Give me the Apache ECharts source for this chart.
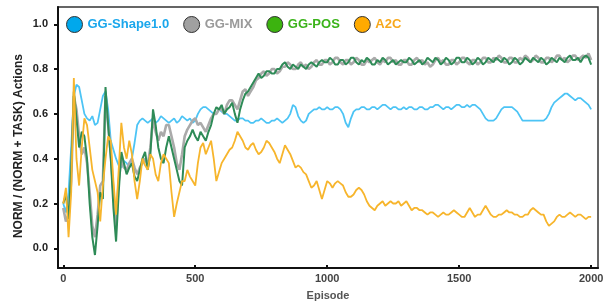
<!DOCTYPE html>
<html>
<head>
<meta charset="utf-8">
<script src="https://cdn.jsdelivr.net/npm/echarts@6/dist/echarts.min.js"></script>
<style>html,body{margin:0;padding:0;background:#fff}#c{width:608px;height:306px}</style>
</head>
<body>
<div id="c"></div>
<script>
// episodes 0, 10, 20, ... 2000
var episodes = [];
for (var e = 0; e <= 2000; e += 10) episodes.push(e);

var ggShape = [
0.20,0.16,0.25,0.45,0.68,0.73,0.72,0.66,0.60,0.58,
0.57,0.59,0.55,0.56,0.62,0.68,0.70,0.62,0.48,0.44,
0.40,0.37,0.36,0.39,0.38,0.36,0.40,0.47,0.55,0.57,
0.58,0.57,0.56,0.57,0.58,0.56,0.57,0.59,0.58,0.57,
0.56,0.57,0.58,0.56,0.57,0.59,0.58,0.57,0.58,0.56,
0.57,0.60,0.62,0.63,0.63,0.62,0.61,0.60,0.60,0.62,
0.61,0.60,0.60,0.59,0.58,0.57,0.57,0.58,0.58,0.57,
0.57,0.56,0.56,0.57,0.57,0.58,0.57,0.56,0.56,0.57,
0.57,0.58,0.57,0.56,0.57,0.58,0.60,0.64,0.63,0.59,
0.57,0.56,0.57,0.60,0.61,0.62,0.62,0.63,0.62,0.62,
0.63,0.62,0.62,0.63,0.63,0.62,0.60,0.56,0.54,0.58,
0.61,0.62,0.62,0.63,0.63,0.62,0.62,0.63,0.63,0.62,
0.63,0.64,0.64,0.63,0.62,0.63,0.63,0.62,0.62,0.63,
0.62,0.63,0.63,0.62,0.62,0.63,0.63,0.62,0.62,0.63,
0.63,0.64,0.64,0.63,0.62,0.63,0.63,0.62,0.63,0.64,
0.64,0.63,0.63,0.64,0.63,0.64,0.64,0.63,0.62,0.60,
0.58,0.57,0.57,0.57,0.58,0.60,0.62,0.63,0.63,0.63,
0.63,0.62,0.61,0.59,0.57,0.57,0.57,0.57,0.57,0.57,
0.57,0.57,0.57,0.58,0.60,0.63,0.65,0.66,0.67,0.68,
0.69,0.69,0.68,0.67,0.66,0.67,0.67,0.66,0.65,0.64,
0.62];

var ggMix = [
0.18,0.12,0.15,0.30,0.68,0.62,0.50,0.42,0.45,0.38,
0.25,0.10,0.05,0.15,0.28,0.30,0.68,0.55,0.42,0.25,
0.10,0.30,0.40,0.36,0.35,0.38,0.40,0.36,0.33,0.36,
0.38,0.40,0.37,0.45,0.58,0.52,0.48,0.52,0.50,0.55,
0.55,0.50,0.45,0.38,0.35,0.42,0.50,0.53,0.55,0.57,
0.58,0.55,0.56,0.54,0.52,0.55,0.58,0.60,0.60,0.62,
0.62,0.60,0.64,0.66,0.66,0.64,0.62,0.66,0.70,0.71,
0.68,0.70,0.72,0.75,0.76,0.78,0.79,0.77,0.78,0.80,
0.80,0.78,0.79,0.81,0.81,0.83,0.82,0.80,0.80,0.82,
0.83,0.81,0.82,0.80,0.81,0.83,0.84,0.82,0.82,0.84,
0.84,0.82,0.83,0.85,0.85,0.83,0.82,0.84,0.84,0.82,
0.83,0.85,0.84,0.82,0.82,0.84,0.83,0.84,0.85,0.83,
0.82,0.84,0.83,0.85,0.85,0.83,0.84,0.82,0.82,0.84,
0.84,0.82,0.82,0.84,0.85,0.83,0.84,0.82,0.83,0.81,
0.82,0.84,0.85,0.83,0.84,0.82,0.82,0.84,0.84,0.82,
0.83,0.85,0.85,0.83,0.82,0.84,0.84,0.82,0.83,0.85,
0.85,0.83,0.83,0.85,0.84,0.86,0.85,0.83,0.83,0.85,
0.85,0.83,0.83,0.85,0.84,0.86,0.85,0.83,0.84,0.86,
0.85,0.83,0.83,0.85,0.85,0.83,0.84,0.86,0.86,0.84,
0.85,0.83,0.84,0.86,0.86,0.84,0.85,0.86,0.85,0.87,
0.84];

var ggPos = [
0.20,0.24,0.13,0.35,0.70,0.58,0.45,0.52,0.50,0.40,
0.20,0.05,-0.03,0.10,0.25,0.22,0.72,0.55,0.40,0.18,
0.03,0.25,0.43,0.38,0.33,0.36,0.38,0.32,0.30,0.35,
0.40,0.43,0.35,0.42,0.62,0.55,0.45,0.40,0.38,0.45,
0.50,0.45,0.40,0.35,0.30,0.28,0.45,0.48,0.50,0.53,
0.50,0.48,0.52,0.50,0.48,0.52,0.55,0.60,0.63,0.62,
0.64,0.60,0.62,0.63,0.65,0.60,0.56,0.62,0.66,0.69,
0.70,0.72,0.74,0.76,0.78,0.76,0.77,0.79,0.79,0.78,
0.78,0.80,0.80,0.82,0.83,0.81,0.80,0.82,0.81,0.80,
0.82,0.81,0.80,0.82,0.83,0.82,0.81,0.83,0.84,0.83,
0.83,0.85,0.84,0.82,0.82,0.84,0.84,0.82,0.83,0.85,
0.85,0.83,0.82,0.84,0.83,0.85,0.84,0.82,0.82,0.84,
0.83,0.85,0.84,0.82,0.83,0.84,0.82,0.83,0.84,0.83,
0.83,0.85,0.84,0.82,0.83,0.84,0.82,0.83,0.85,0.84,
0.83,0.85,0.84,0.82,0.83,0.85,0.84,0.82,0.83,0.85,
0.85,0.83,0.83,0.85,0.84,0.82,0.83,0.85,0.84,0.82,
0.83,0.85,0.84,0.83,0.85,0.84,0.83,0.85,0.84,0.82,
0.83,0.85,0.84,0.82,0.83,0.85,0.84,0.83,0.85,0.84,
0.83,0.85,0.84,0.82,0.83,0.85,0.84,0.83,0.85,0.84,
0.83,0.85,0.86,0.84,0.84,0.85,0.83,0.85,0.86,0.85,
0.82];

var a2c = [
0.20,0.27,0.05,0.25,0.76,0.40,0.28,0.45,0.58,0.55,
0.45,0.35,0.30,0.25,0.12,0.28,0.40,0.50,0.48,0.30,
0.15,0.35,0.56,0.45,0.40,0.48,0.42,0.30,0.22,0.30,
0.40,0.37,0.35,0.42,0.40,0.33,0.30,0.38,0.42,0.40,
0.38,0.25,0.14,0.20,0.25,0.30,0.30,0.35,0.32,0.30,
0.28,0.38,0.45,0.47,0.42,0.45,0.48,0.40,0.30,0.34,
0.38,0.40,0.42,0.44,0.45,0.48,0.52,0.50,0.48,0.45,
0.44,0.46,0.47,0.44,0.42,0.43,0.45,0.48,0.47,0.45,
0.43,0.40,0.38,0.42,0.46,0.44,0.42,0.39,0.36,0.37,
0.36,0.34,0.33,0.30,0.27,0.28,0.30,0.26,0.22,0.26,
0.30,0.29,0.27,0.29,0.30,0.29,0.28,0.25,0.23,0.23,
0.24,0.26,0.27,0.26,0.24,0.21,0.19,0.18,0.17,0.19,
0.20,0.21,0.19,0.20,0.21,0.20,0.20,0.21,0.19,0.20,
0.21,0.19,0.17,0.18,0.18,0.17,0.17,0.16,0.15,0.16,
0.16,0.15,0.14,0.15,0.16,0.15,0.15,0.16,0.17,0.16,
0.15,0.14,0.14,0.16,0.18,0.16,0.14,0.15,0.15,0.17,
0.19,0.17,0.15,0.14,0.14,0.15,0.15,0.16,0.17,0.16,
0.16,0.15,0.15,0.14,0.14,0.15,0.15,0.17,0.18,0.17,
0.16,0.15,0.15,0.12,0.10,0.11,0.12,0.14,0.15,0.14,
0.14,0.15,0.16,0.15,0.14,0.15,0.15,0.14,0.13,0.14,
0.14];

var xTicks = [0, 500, 1000, 1500, 2000];
var yTicks = [0, 0.2, 0.4, 0.6, 0.8, 1.0];

function pairs(vals){ return episodes.map(function(ep,i){ return [ep, vals[i]]; }); }

var chart = echarts.init(document.getElementById('c'), null, {renderer:'canvas'});
var font = 'Liberation Sans, Arial, sans-serif';
chart.setOption({
  animation: false,
  grid: {left: 58, right: 10, top: 7, bottom: 38, show: true, borderColor: '#333', borderWidth: 1.5, backgroundColor: '#fff'},
  legend: {
    left: 61, top: 11, itemWidth: 16, itemHeight: 16, itemGap: 14, icon: 'circle',
    textStyle: {fontFamily: font, fontWeight: 'bold', fontSize: 13},
    data: [
      {name: 'GG-Shape1.0', itemStyle: {color: '#00a8ec', borderColor: '#333', borderWidth: 1}, textStyle: {color: '#1aa7ec'}},
      {name: 'GG-MIX', itemStyle: {color: '#a0a0a0', borderColor: '#333', borderWidth: 1}, textStyle: {color: '#9a9a9a'}},
      {name: 'GG-POS', itemStyle: {color: '#3cb30f', borderColor: '#333', borderWidth: 1}, textStyle: {color: '#3bb31a'}},
      {name: 'A2C', itemStyle: {color: '#ffaa00', borderColor: '#333', borderWidth: 1}, textStyle: {color: '#f7a81b'}}
    ]
  },
  xAxis: {
    type: 'value', min: -20, max: 2026,
    name: 'Episode', nameLocation: 'middle', nameGap: 22,
    nameTextStyle: {fontFamily: font, fontWeight: 'bold', fontSize: 11, color: '#555'},
    axisLine: {show: true, onZero: false, lineStyle: {color: '#111', width: 2}},
    axisTick: {show: true, inside: true, length: 3, lineStyle: {color: '#111', width: 2}, customValues: xTicks},
    axisLabel: {fontFamily: font, fontWeight: 'bold', fontSize: 11, color: '#444', margin: 5, customValues: xTicks,
      formatter: function(v){ return String(v); }},
    splitLine: {show: false}
  },
  yAxis: {
    type: 'value', min: -0.088, max: 1.077,
    axisLine: {show: true, onZero: false, lineStyle: {color: '#111', width: 2}},
    axisTick: {show: true, length: 4, lineStyle: {color: '#111', width: 2}, customValues: yTicks},
    axisLabel: {fontFamily: font, fontWeight: 'bold', fontSize: 11, color: '#222', margin: 10, customValues: yTicks,
      formatter: function(v){ return v.toFixed(1); }},
    splitLine: {show: false}
  },
  graphic: [{
    type: 'text', left: 13, top: 54, rotation: Math.PI/2,
    style: {text: 'NORM / (NORM + TASK) Actions', font: 'bold 12px ' + font, fill: '#222'}
  }],
  series: [
    {name: 'GG-Shape1.0', type: 'line', data: pairs(ggShape), showSymbol: false, lineStyle: {color: '#4cc4f5', width: 1.8}, itemStyle: {color: '#4cc4f5'}},
    {name: 'GG-MIX', type: 'line', data: pairs(ggMix), showSymbol: false, lineStyle: {color: '#aaaaaa', width: 2.6}, itemStyle: {color: '#aaaaaa'}},
    {name: 'GG-POS', type: 'line', data: pairs(ggPos), showSymbol: false, lineStyle: {color: '#2e8b57', width: 2}, itemStyle: {color: '#2e8b57'}},
    {name: 'A2C', type: 'line', data: pairs(a2c), showSymbol: false, lineStyle: {color: '#f7b52c', width: 1.8}, itemStyle: {color: '#f7b52c'}}
  ]
});
</script>
</body>
</html>
